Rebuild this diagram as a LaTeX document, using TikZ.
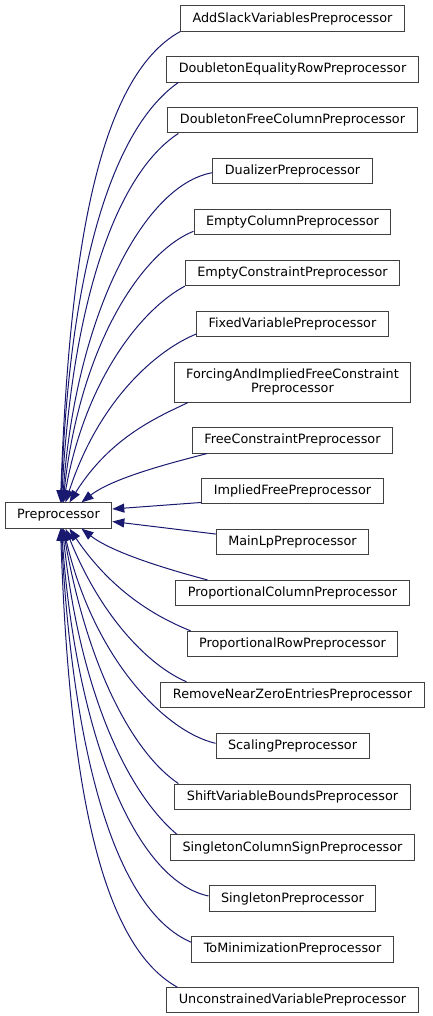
\documentclass[tikz,border=0pt]{standalone}
\usepackage{fontspec}
\setmainfont{DejaVu Sans}
\usetikzlibrary{arrows.meta,positioning}
\definecolor{edgeblue}{HTML}{191970}
\definecolor{boxgray}{HTML}{404040}

\begin{document}
\begin{tikzpicture}[
  x=1pt, y=1pt,
  node distance=24.6pt,
  cls/.style={draw=boxgray, line width=1pt, fill=white, align=center,
              font=\fontsize{12.8}{14.5}\selectfont, inner xsep=12pt, inner ysep=2pt,
              minimum height=25.3pt},
  inh/.style={draw=edgeblue, line width=1pt, -{Triangle[length=12pt,width=9pt]},
              out looseness=0.5, in looseness=1.3}
]
\useasboundingbox (0,0) rectangle (432,-1016);

\node[cls] (pre) at (58.5,-515.5) {Preprocessor};

\node[cls] (add) at (292.5,-18.5) {AddSlackVariablesPreprocessor};
\node[cls, below=of add] (deq) {DoubletonEqualityRowPreprocessor};
\node[cls, below=of deq] (dfree) {DoubletonFreeColumnPreprocessor};
\node[cls, below=of dfree] (dual) {DualizerPreprocessor};
\node[cls, below=of dual] (ecol) {EmptyColumnPreprocessor};
\node[cls, below=of ecol] (econ) {EmptyConstraintPreprocessor};
\node[cls, below=of econ] (fixed) {FixedVariablePreprocessor};
\node[cls, below=of fixed, minimum height=40pt] (forcing) {ForcingAndImpliedFreeConstraint\\Preprocessor};
\node[cls, below=of forcing] (free) {FreeConstraintPreprocessor};
\node[cls, below=of free] (implied) {ImpliedFreePreprocessor};
\node[cls, below=of implied] (mainlp) {MainLpPreprocessor};
\node[cls, below=of mainlp] (propcol) {ProportionalColumnPreprocessor};
\node[cls, below=of propcol] (proprow) {ProportionalRowPreprocessor};
\node[cls, below=of proprow] (rnz) {RemoveNearZeroEntriesPreprocessor};
\node[cls, below=of rnz] (scaling) {ScalingPreprocessor};
\node[cls, below=of scaling] (shiftvb) {ShiftVariableBoundsPreprocessor};
\node[cls, below=of shiftvb] (scs) {SingletonColumnSignPreprocessor};
\node[cls, below=of scs] (singleton) {SingletonPreprocessor};
\node[cls, below=of singleton] (tomin) {ToMinimizationPreprocessor};
\node[cls, below=of tomin] (uncon) {UnconstrainedVariablePreprocessor};

\draw[inh] (add.south west) to[out=209, in=88] ([xshift=2pt]pre.north);
\draw[inh] ([xshift=12pt]deq.south west) to[out=215, in=88] ([xshift=2.5pt]pre.north);
\draw[inh] ([xshift=11pt]dfree.south west) to[out=213, in=87] ([xshift=3pt]pre.north);
\draw[inh] ([yshift=-1.5pt]dual.west) to[out=190, in=86] ([xshift=4pt]pre.north);
\draw[inh] ([yshift=4pt]ecol.south west) to[out=202, in=84] ([xshift=4.5pt]pre.north);
\draw[inh] (econ.south west) to[out=208, in=80] ([xshift=5pt]pre.north);
\draw[inh] ([yshift=3pt]fixed.south west) to[out=202, in=72] ([xshift=7pt]pre.north);
\draw[inh] ([xshift=14pt]forcing.south west) to[out=206, in=58] ([xshift=11pt]pre.north);
\draw[inh, in looseness=0.8] ([xshift=15pt]free.south west) to[out=195, in=38] ([xshift=23pt]pre.north);
\draw[inh] ([yshift=2pt]implied.south west) -- ([yshift=6.5pt]pre.east);
\draw[inh] ([yshift=-5pt]mainlp.north west) -- ([yshift=-6pt]pre.east);
\draw[inh, in looseness=0.8] ([xshift=32pt]propcol.north west) to[out=165, in=-38] ([xshift=23pt]pre.south);
\draw[inh] ([xshift=4pt]proprow.north west) to[out=158, in=-56] ([xshift=11pt]pre.south);
\draw[inh] ([xshift=26pt]rnz.north west) to[out=157, in=-68] ([xshift=7pt]pre.south);
\draw[inh] ([yshift=2.5pt]scaling.west) to[out=167, in=-77] ([xshift=5pt]pre.south);
\draw[inh] ([xshift=4pt]shiftvb.north west) to[out=146, in=-80] ([xshift=4.5pt]pre.south);
\draw[inh] ([xshift=7pt]scs.north west) to[out=140, in=-84] ([xshift=4pt]pre.south);
\draw[inh] ([yshift=2.5pt]singleton.west) to[out=168, in=-86] ([xshift=3pt]pre.south);
\draw[inh] ([yshift=-6pt]tomin.north west) to[out=157, in=-87] ([xshift=2.5pt]pre.south);
\draw[inh] ([xshift=11pt]uncon.north west) to[out=151, in=-88] ([xshift=2pt]pre.south);
\end{tikzpicture}
\end{document}
